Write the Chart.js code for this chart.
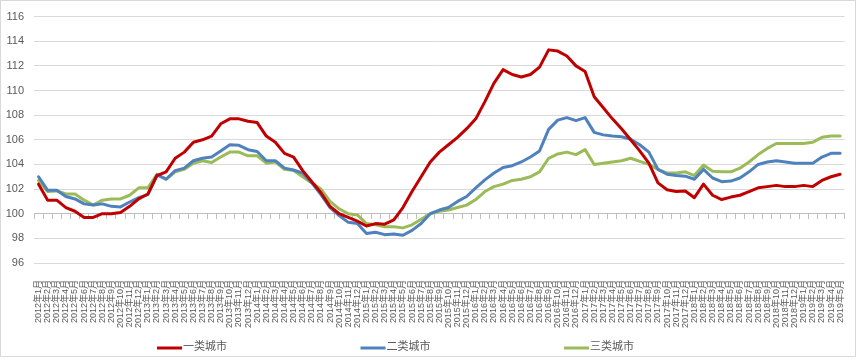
<!DOCTYPE html>
<html>
<head>
<meta charset="utf-8">
<script src="https://cdn.jsdelivr.net/npm/chart.js@4/dist/chart.umd.min.js"></script>
<style>
  html, body { margin: 0; padding: 0; background: #ffffff; }
  #wrap { width: 860px; height: 360px; }
</style>
</head>
<body>
<div id="wrap"><canvas id="c" width="860" height="360"></canvas></div>
<script>
// ---- data ----
const years = [2012, 2013, 2014, 2015, 2016, 2017, 2018, 2019];
const categories = [];
years.forEach(y => {
  const last = (y === 2019) ? 5 : 12;
  for (let m = 1; m <= last; m++) categories.push(y + '年' + m + '月');
});

const seriesNames = ['一类城市', '二类城市', '三类城市'];

const tier1 = [102.4, 101.1, 101.1, 100.5, 100.2, 99.7, 99.7, 100.0, 100.0, 100.1, 100.6, 101.2,
  101.6, 103.1, 103.4, 104.5, 105.0, 105.8, 106.0, 106.3, 107.3, 107.7, 107.7, 107.5,
  107.4, 106.3, 105.8, 104.9, 104.6, 103.5, 102.6, 101.7, 100.6, 100.0, 99.7, 99.4,
  99.0, 99.2, 99.15, 99.5, 100.5, 101.8, 103.0, 104.2, 105.0, 105.6, 106.2, 106.9,
  107.7, 109.1, 110.6, 111.7, 111.3, 111.1, 111.3, 111.9, 113.3, 113.2, 112.8, 112.0,
  111.55, 109.5, 108.6, 107.7, 106.9, 106.0, 105.1, 104.1, 102.5, 101.95, 101.8, 101.85,
  101.3, 102.4, 101.5, 101.15, 101.35, 101.5, 101.8, 102.1, 102.2, 102.3, 102.2, 102.2,
  102.3, 102.2, 102.7, 103.0, 103.2];

const tier2 = [103.0, 101.9, 101.9, 101.4, 101.2, 100.8, 100.7, 100.8, 100.6, 100.55, 100.95, 101.3,
  101.55, 103.15, 102.8, 103.5, 103.7, 104.3, 104.5, 104.6, 105.1, 105.6, 105.55, 105.2,
  105.05, 104.3, 104.3, 103.7, 103.55, 103.3, 102.5, 101.55, 100.5, 99.85, 99.3, 99.2,
  98.4, 98.5, 98.3, 98.35, 98.25, 98.65, 99.2, 100.0, 100.3, 100.5, 101.0, 101.4,
  102.1, 102.75, 103.3, 103.75, 103.9, 104.2, 104.6, 105.1, 106.85, 107.6, 107.8, 107.55,
  107.8, 106.6, 106.4, 106.3, 106.25, 106.05, 105.6, 105.0, 103.6, 103.2, 103.1, 103.05,
  102.8, 103.6, 102.9, 102.6, 102.65, 102.9, 103.4, 104.0, 104.2, 104.3, 104.2, 104.1,
  104.1, 104.1, 104.6, 104.9, 104.9];

const tier3 = [102.7, 101.8, 101.85, 101.6, 101.6, 101.1, 100.7, 101.1, 101.2, 101.2, 101.5, 102.1,
  102.1, 103.2, 102.8, 103.4, 103.6, 104.1, 104.3, 104.15, 104.6, 105.0, 105.0, 104.7,
  104.7, 104.1, 104.2, 103.6, 103.5, 103.0, 102.5, 102.0, 101.0, 100.4, 100.0, 99.9,
  99.2, 99.1, 98.95, 98.95, 98.85, 99.1, 99.55, 100.0, 100.2, 100.3, 100.5, 100.7,
  101.15, 101.8, 102.2, 102.4, 102.7, 102.8, 103.0, 103.4, 104.5, 104.85, 105.0, 104.8,
  105.2, 104.0, 104.1, 104.2, 104.3, 104.5, 104.25, 104.0, 103.6, 103.3, 103.3, 103.4,
  103.1, 103.95, 103.45, 103.4, 103.4, 103.7, 104.2, 104.8, 105.3, 105.7, 105.7, 105.7,
  105.7, 105.8, 106.2, 106.3, 106.3];

const yTicks = { min: 96, max: 116, step: 2 };
const axisCrossValue = 100;

// ---- styles ----
const colors = ['#c00000', '#4f81bd', '#9bbb59'];
const fontFamily = "'Liberation Sans', 'Noto Sans CJK SC', sans-serif";
const textColor = '#595959';

// custom legend + frame
const decorPlugin = {
  id: 'decor',
  afterDraw(chart) {
    const ctx = chart.ctx;
    ctx.save();
    // frame
    ctx.strokeStyle = '#d9d9d9';
    ctx.lineWidth = 1;
    ctx.strokeRect(0.5, 0.5, 855, 356);
    // legend
    const startX = 157, gap = 203.5, y = 348, lineLen = 25;
    ctx.font = '11px ' + fontFamily;
    ctx.textBaseline = 'middle';
    ctx.textAlign = 'left';
    chart.data.datasets.forEach((ds, i) => {
      const x = startX + i * gap;
      ctx.strokeStyle = ds.borderColor;
      ctx.lineWidth = 3;
      ctx.beginPath();
      ctx.moveTo(x, y);
      ctx.lineTo(x + lineLen, y);
      ctx.stroke();
      ctx.fillStyle = textColor;
      ctx.fillText(ds.label, x + lineLen + 1, y - 1);
    });
    ctx.restore();
  }
};

const datasets = [tier1, tier2, tier3].map((d, i) => ({
  label: seriesNames[i],
  data: d,
  borderColor: colors[i],
  backgroundColor: colors[i],
  borderWidth: 3,
  pointRadius: 0,
  pointHoverRadius: 0,
  tension: 0,
  fill: false,
  borderJoinStyle: 'round',
  borderCapStyle: 'round'
}));

new Chart(document.getElementById('c'), {
  type: 'line',
  data: { labels: categories, datasets },
  options: {
    responsive: false,
    animation: false,
    events: [],
    layout: { padding: { left: 0, right: 12, top: 11, bottom: 30 } },
    plugins: { legend: { display: false }, tooltip: { enabled: false } },
    scales: {
      x: {
        type: 'category',
        position: 'bottom',
        offset: true,
        grid: { display: false },
        border: { display: false },
        ticks: {
          autoSkip: false,
          maxRotation: 90,
          minRotation: 90,
          padding: 9,
          color: textColor,
          font: { size: 9, family: fontFamily }
        },
        afterFit: s => { s.height = 67; }
      },
      xline: {
        type: 'category',
        position: { y: axisCrossValue },
        offset: true,
        grid: { drawOnChartArea: false, drawTicks: true, tickLength: 5, color: '#bfbfbf', offset: true },
        border: { display: true, color: '#bfbfbf', width: 1 },
        ticks: { display: false }
      },
      y: {
        min: yTicks.min,
        max: yTicks.max,
        ticks: {
          stepSize: yTicks.step,
          padding: 10,
          color: textColor,
          font: { size: 11, family: fontFamily }
        },
        grid: { color: '#d9d9d9', drawTicks: false },
        border: { display: false },
        afterFit: s => { s.width = 34; }
      }
    }
  },
  plugins: [decorPlugin]
});
</script>
</body>
</html>
